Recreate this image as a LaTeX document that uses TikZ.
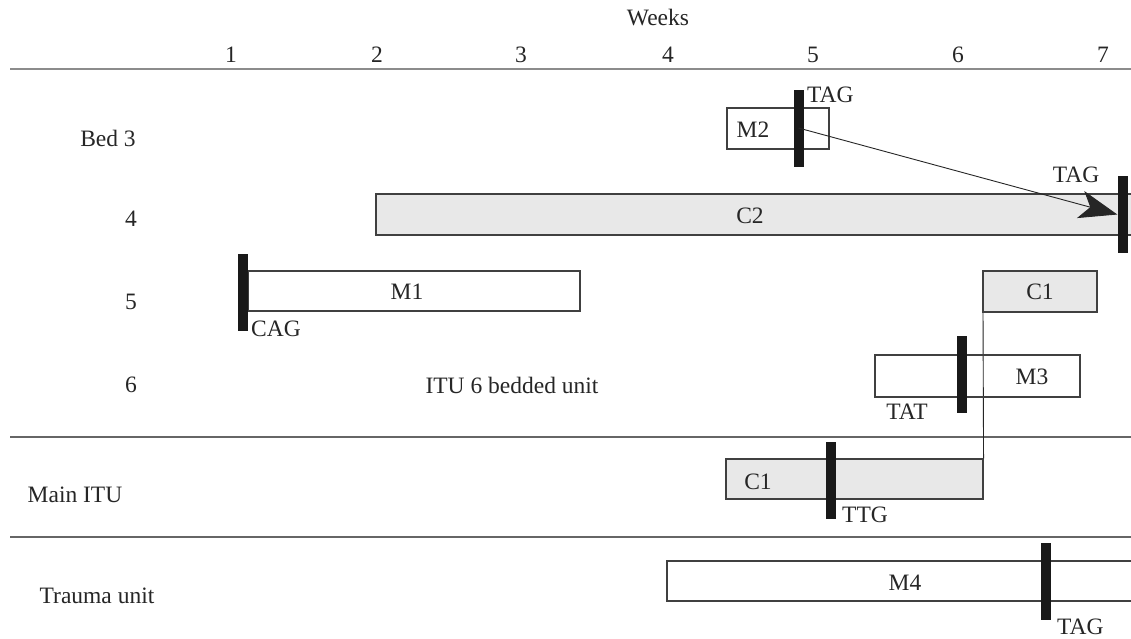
\documentclass[tikz,border=0pt]{standalone}
\usepackage{fontspec}
\setmainfont{Liberation Serif}
\usetikzlibrary{arrows.meta}
\begin{document}
\begin{tikzpicture}[x=1pt,y=-1pt,
  every node/.style={font=\fontsize{23.5}{26}\selectfont, inner sep=0pt},
  txt/.style={text=black!85},
  bar/.style={fill=black!90, draw=none, minimum width=10pt, minimum height=77pt},
  wbox/.style={draw=black!75, line width=1.1pt, fill=white},
  gbox/.style={draw=black!75, line width=1.1pt, fill=black!9},
  sep/.style={draw=black!60, line width=1.2pt},
  topline/.style={draw=black!45, line width=2.2pt},
  link/.style={draw=black!85, line width=0.9pt}]
\useasboundingbox (0,0) rectangle (1131,638);
\fill[white] (0,0) rectangle (1131,638);
% header
\node[txt] (weeks) at (658,18) {Weeks};
\node[txt] (w1) at (231,55) {1};
\node[txt] (w2) at (377,55) {2};
\node[txt] (w3) at (521,55) {3};
\node[txt] (w4) at (668,55) {4};
\node[txt] (w5) at (813,55) {5};
\node[txt] (w6) at (958,55) {6};
\node[txt] (w7) at (1103,55) {7};
\coordinate (tl) at (10,69);
\coordinate (tr) at (1135,69);
\draw[topline] (tl) -- (tr);
% separators
\coordinate (s1l) at (10,437); \coordinate (s1r) at (1135,437);
\coordinate (s2l) at (10,537); \coordinate (s2r) at (1135,537);
\draw[sep] (s1l) -- (s1r);
\draw[sep] (s2l) -- (s2r);
% row labels
\node[txt] (rbed) at (108,138) {Bed 3};
\node[txt] (r4) at (131,219) {4};
\node[txt] (r5) at (131,302) {5};
\node[txt] (r6) at (131,385) {6};
\node[txt] (rmain) at (75,495) {Main ITU};
\node[txt] (rtrauma) at (97,596) {Trauma unit};
\node[txt] (itu) at (512,385) {ITU 6 bedded unit};
% C2
\node[gbox, minimum width=760pt, minimum height=41pt] (c2) at (756,214.5) {};
\node[txt] (c2l) at (750,216) {C2};
% M2
\node[wbox, minimum width=102pt, minimum height=41pt] (m2) at (778,128.5) {};
\node[txt] (m2l) at (753,130) {M2};
\node[bar] (b1) at (798.5,128) {};
\node[txt, anchor=west] (tag1) at (807,95) {TAG};
\node[bar] (b2) at (1122.5,214.5) {};
\node[txt] (tag2) at (1076,175) {TAG};
\draw[link, -{Stealth[length=38pt, width=28pt, inset=10pt]}] (b1.center) -- (b2.west);
% M1
\node[wbox, minimum width=332pt, minimum height=40pt] (m1) at (414,291) {};
\node[txt] (m1l) at (407,292) {M1};
\node[bar] (b3) at (243,292.5) {};
\node[txt, anchor=west] (cag) at (251,329) {CAG};
% lower C1 and link line
\node[gbox, minimum width=257pt, minimum height=40pt] (c1b) at (854.5,479) {};
\coordinate (vl) at (983,312);
\draw[link] (c1b.north east) -- (vl);
% upper C1
\node[gbox, minimum width=114pt, minimum height=41pt] (c1a) at (1040,291.5) {};
\node[txt] (c1al) at (1040,292) {C1};
% M3
\node[draw=black!75, line width=1.1pt, minimum width=205pt, minimum height=42pt] (m3) at (977.5,376) {};
\node[txt] (m3l) at (1032,377) {M3};
\node[bar] (b4) at (962,374.5) {};
\node[txt] (tat) at (907,412) {TAT};
% lower C1 text, bar
\node[txt] (c1bl) at (758,482) {C1};
\node[bar] (b5) at (831,480) {};
\node[txt, anchor=west] (ttg) at (842,515) {TTG};
% M4
\node[wbox, minimum width=470pt, minimum height=40pt] (m4) at (902,581) {};
\node[txt] (m4l) at (905,583) {M4};
\node[bar] (b6) at (1045.5,581.5) {};
\node[txt, anchor=west] (tag3) at (1057,627) {TAG};
\end{tikzpicture}
\end{document}
